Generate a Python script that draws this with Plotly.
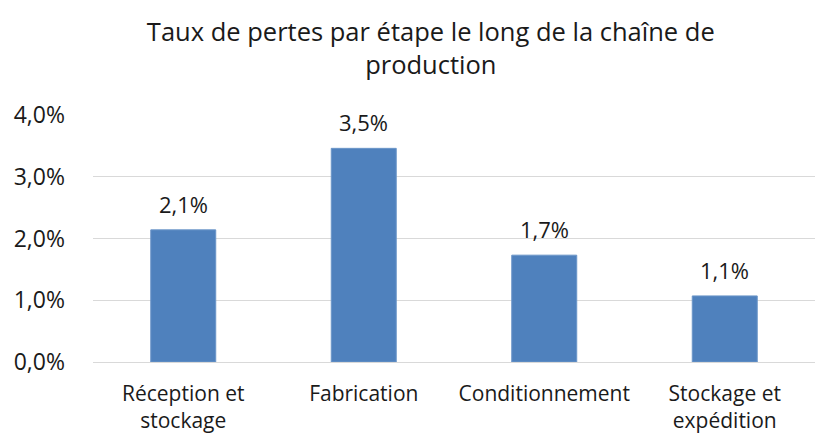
import plotly.graph_objects as go

categories = ["Réception et<br>stockage", "Fabrication", "Conditionnement", "Stockage et<br>expédition"]
loss_rates = [0.0214, 0.0346, 0.0173, 0.0107]
y_ticks = [0, 0.01, 0.02, 0.03, 0.04]
y_tick_labels = ["0,0%", "1,0%", "2,0%", "3,0%", "4,0%"]

FONT = "Open Sans"
TXT = "#1a1a1a"

fig = go.Figure(go.Bar(
    x=categories,
    y=loss_rates,
    marker=dict(color="#4f81bd", line=dict(color="#6b95c8", width=1)),
    cliponaxis=False,
))

# data labels above the bars
for cat, val in zip(categories, loss_rates):
    fig.add_annotation(
        x=cat, y=val, yanchor="bottom", yshift=9, showarrow=False,
        text=f"{val * 100:.1f}%".replace(".", ","),
        font=dict(family=FONT, size=22, color=TXT),
    )

# page body has an 8px margin, so the figure is a bit smaller than the window
fig.update_layout(
    width=829, height=433,
    title=dict(
        text="Taux de pertes par étape le long de la chaîne de<br>production",
        x=0.51, xanchor="center", y=0.924, yanchor="top",
        font=dict(family=FONT, size=25.5, color=TXT),
    ),
    bargap=0.64,
    plot_bgcolor="white", paper_bgcolor="white",
    margin=dict(l=85, r=22, t=107, b=79),
    showlegend=False,
)
fig.update_yaxes(
    range=[0, 0.04], tickvals=y_ticks, ticktext=y_tick_labels,
    showgrid=True, gridcolor="#d9d9d9", gridwidth=1.3,
    zeroline=True, zerolinecolor="#d9d9d9", zerolinewidth=1.3,
    tickfont=dict(family=FONT, size=23, color=TXT),
    ticklabelstandoff=27, automargin=False,
)
fig.update_xaxes(
    showline=False, showgrid=False,
    tickfont=dict(family=FONT, size=21, color=TXT),
    ticklabelstandoff=17, automargin=False,
)

fig.write_html("out.html")
